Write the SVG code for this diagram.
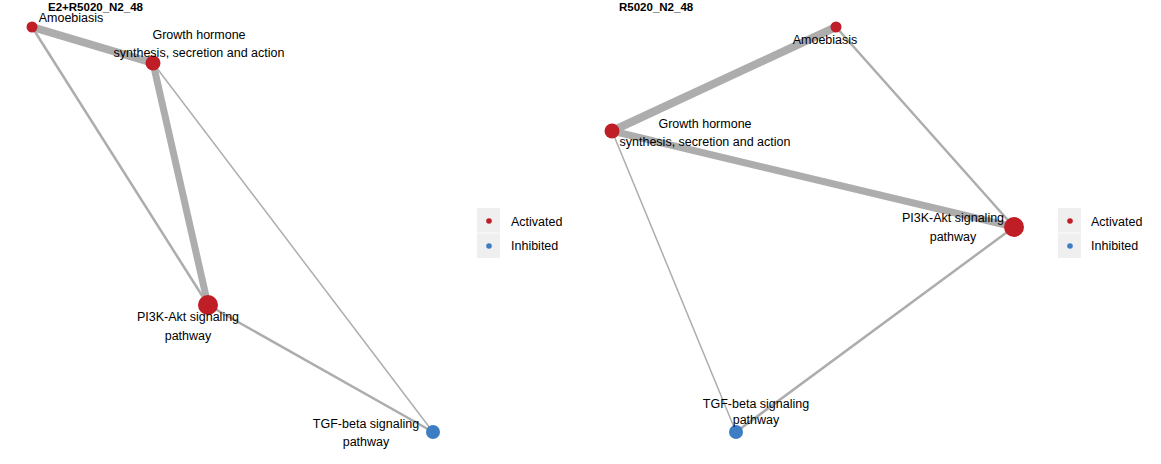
<svg xmlns="http://www.w3.org/2000/svg" width="1161" height="464" viewBox="0 0 1161 464">
<style>
text{font-family:"Liberation Sans",Arial,sans-serif;fill:#000}
.lbl{font-size:12.5px;text-anchor:middle}
.ttl{font-size:11.5px;font-weight:bold}
.leg{font-size:12.5px}
.e{stroke:#ADADAD;stroke-linecap:butt;fill:none}
.act{fill:#C01E27}
.inh{fill:#3D7DC4}
.lbox{fill:#EFEFEF}
</style>
<rect width="1161" height="464" fill="#fff"/>
<text class="ttl" x="48" y="11">E2+R5020_N2_48</text>
<text class="ttl" x="619" y="11">R5020_N2_48</text>
<g id="connectors">
<line class="e" x1="32" y1="27" x2="153" y2="63" stroke-width="8"/>
<line class="e" x1="153" y1="63" x2="208" y2="305" stroke-width="7"/>
<line class="e" x1="32" y1="27" x2="208" y2="305" stroke-width="2.5"/>
<line class="e" x1="153" y1="63" x2="433" y2="432" stroke-width="1.5"/>
<line class="e" x1="208" y1="305" x2="433" y2="432" stroke-width="2.5"/>
<line class="e" x1="836" y1="27" x2="612" y2="131" stroke-width="8"/>
<line class="e" x1="612" y1="131" x2="1014" y2="227" stroke-width="7"/>
<line class="e" x1="836" y1="27" x2="1014" y2="227" stroke-width="2.5"/>
<line class="e" x1="612" y1="131" x2="736" y2="432" stroke-width="1.5"/>
<line class="e" x1="1014" y1="227" x2="736" y2="432" stroke-width="2.5"/>
</g>
<g id="L-amoebiasis"><circle class="act" cx="32" cy="27" r="5.5"/><text class="lbl" x="71" y="21.5">Amoebiasis</text></g>
<g id="L-gh"><circle class="act" cx="153" cy="63" r="7.5"/><text class="lbl" x="199" y="39">Growth hormone</text><text class="lbl" x="199" y="57">synthesis, secretion and action</text></g>
<g id="L-pi3k"><circle class="act" cx="208" cy="305" r="10"/><text class="lbl" x="188" y="321">PI3K-Akt signaling</text><text class="lbl" x="188" y="340">pathway</text></g>
<g id="L-tgf"><circle class="inh" cx="433" cy="432" r="7"/><text class="lbl" x="366" y="428">TGF-beta signaling</text><text class="lbl" x="366" y="446">pathway</text></g>
<g id="L-legend"><rect class="lbox" x="477" y="208" width="23" height="50"/><line x1="477" y1="233" x2="500" y2="233" stroke="#fff" stroke-width="0.8"/><circle class="act" cx="489" cy="221" r="2.8"/><circle class="inh" cx="489" cy="246" r="2.8"/><text class="leg" x="511" y="226">Activated</text><text class="leg" x="511" y="250">Inhibited</text></g>
<g id="R-amoebiasis"><circle class="act" cx="836" cy="27" r="5.5"/><text class="lbl" x="825" y="44">Amoebiasis</text></g>
<g id="R-gh"><circle class="act" cx="612" cy="131" r="7.5"/><text class="lbl" x="705" y="128">Growth hormone</text><text class="lbl" x="705" y="146">synthesis, secretion and action</text></g>
<g id="R-pi3k"><circle class="act" cx="1014" cy="227" r="10"/><text class="lbl" x="953" y="222">PI3K-Akt signaling</text><text class="lbl" x="953" y="241">pathway</text></g>
<g id="R-tgf"><circle class="inh" cx="736" cy="432" r="7"/><text class="lbl" x="756" y="408">TGF-beta signaling</text><text class="lbl" x="756" y="424">pathway</text></g>
<g id="R-legend"><rect class="lbox" x="1058" y="208" width="23" height="50"/><line x1="1058" y1="233" x2="1081" y2="233" stroke="#fff" stroke-width="0.8"/><circle class="act" cx="1070" cy="221" r="2.8"/><circle class="inh" cx="1070" cy="246" r="2.8"/><text class="leg" x="1091" y="226">Activated</text><text class="leg" x="1091" y="250">Inhibited</text></g>
</svg>
